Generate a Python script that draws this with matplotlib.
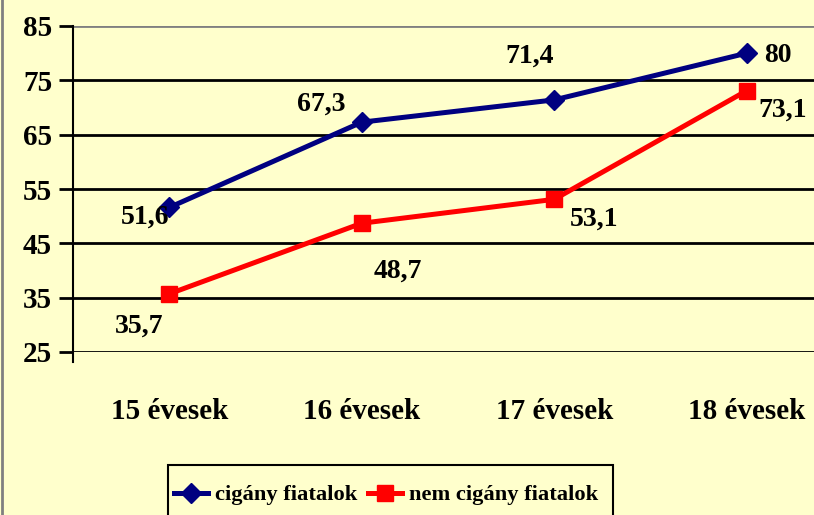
import matplotlib.pyplot as plt
import matplotlib
from matplotlib.lines import Line2D
from matplotlib.patches import Rectangle

matplotlib.rcParams['font.family'] = ['Liberation Serif', 'DejaVu Serif']
matplotlib.rcParams['font.weight'] = 'bold'

# Data
categories = ["15 évesek", "16 évesek", "17 évesek", "18 évesek"]
roma = [51.6, 67.3, 71.4, 80]
nonroma = [35.7, 48.7, 53.1, 73.1]
roma_labels = ["51,6", "67,3", "71,4", "80"]
nonroma_labels = ["35,7", "48,7", "53,1", "73,1"]
yticks = [25, 35, 45, 55, 65, 75, 85]

W, H = 814, 515
bg = '#FFFFCC'
fig = plt.figure(figsize=(W / 100, H / 100), dpi=100, facecolor=bg)
ax = fig.add_axes([73 / W, 1 - 352 / H, 770 / W, 326 / H], facecolor=bg)

x = range(len(categories))
ax.plot(x, roma, color='#000080', lw=3.6, marker='D', ms=10, label='cigány fiatalok')
ax.plot(x, nonroma, color='#FF0000', lw=3.6, marker='s', ms=11, label='nem cigány fiatalok')

ax.set_xlim(-0.5, 3.5)
ax.set_ylim(25, 85)
ax.set_yticks(yticks)
ax.set_xticks(list(x))
ax.set_xticklabels(categories)
for y in yticks[:-1]:
    ax.axhline(y, color='black', lw=2, zorder=0)
ax.axhline(85, color='#808080', lw=2, zorder=0)

for s in ['top', 'right', 'bottom', 'left']:
    ax.spines[s].set_visible(False)
ax.add_line(Line2D([0, 0], [-0.03, 1], transform=ax.transAxes, color='black', lw=1.5, clip_on=False))

ax.tick_params(axis='y', length=10, width=2, direction='out', labelsize=21, pad=5)
ax.tick_params(axis='x', length=0, labelsize=21, pad=33)

fs = 20
# value labels
offs_b = [(-24, -10), (-40, 18), (-25, 44), (31, -2)]
for i, (v, t) in enumerate(zip(roma, roma_labels)):
    ax.annotate(t, (i, v), xytext=offs_b[i], textcoords='offset pixels',
                ha='center', va='center', fontsize=fs, fontweight='bold')
offs_r = [(-30, -32), (36, -48), (40, -20), (36, -20)]
for i, (v, t) in enumerate(zip(nonroma, nonroma_labels)):
    ax.annotate(t, (i, v), xytext=offs_r[i], textcoords='offset pixels',
                ha='center', va='center', fontsize=fs, fontweight='bold')

# legend (frame drawn separately, it runs off the bottom of the figure)
fig.add_artist(Rectangle((168 / W, -0.1), (613 - 168) / W, 0.1 + 1 - 465 / H,
                         transform=fig.transFigure, facecolor=bg, edgecolor='black',
                         lw=1.5, zorder=2))
leg = fig.legend(loc='center left', bbox_to_anchor=(172 / W, 1 - 495 / H),
                 ncol=2, fontsize=16.2, frameon=False,
                 handlelength=1.5, handletextpad=0.3, columnspacing=0.5,
                 borderpad=0.1, borderaxespad=0)
leg.set_zorder(3)

fig.add_artist(Line2D([0.002, 0.002], [0, 1], transform=fig.transFigure, color='#808080', lw=2))

fig.savefig('out.png', dpi=100, facecolor=bg)
